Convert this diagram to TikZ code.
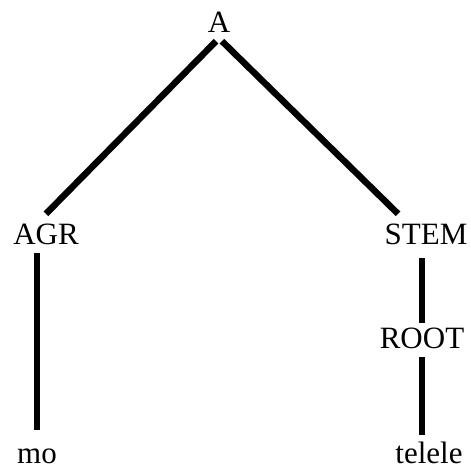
\documentclass[tikz,border=0pt]{standalone}
\usepackage{fontspec}
\setmainfont{Liberation Serif}

\begin{document}
\begin{tikzpicture}[x=1pt, y=-1pt,
    lbl/.style={anchor=base, inner xsep=2pt, inner ysep=9pt, text height=21pt, text depth=0pt, font=\fontsize{31}{37}\selectfont},
    leaf/.style={lbl, inner ysep=3pt, text height=25pt},
    branch/.style={line width=6.5pt}]

    \useasboundingbox (0,0) rectangle (471,471);

    \node[lbl] (a) at (219, 32) {A};
    \node[lbl] (agr) at (46, 244) {AGR};
    \node[lbl] (stem) at (426, 244) {STEM};
    \node[lbl] (root) at (422, 348) {ROOT};
    \node[leaf] (mo) at (37, 463) {mo};
    \node[leaf] (telele) at (429, 463) {telele};

    \draw [branch] ([xshift=-3pt]a.south) -- (agr.north);
    \draw [branch] ([xshift=3pt]a.south) -- ([xshift=-28pt]stem.north);
    \draw [branch, shorten >=5pt] (agr.south -| mo.north) -- (mo.north);
    \draw [branch, shorten <=5pt, shorten >=-5pt] (stem.south -| root.north) -- (root.north);
    \draw [branch] (root.south) -- (telele.north -| root.south);

\end{tikzpicture}
\end{document}
